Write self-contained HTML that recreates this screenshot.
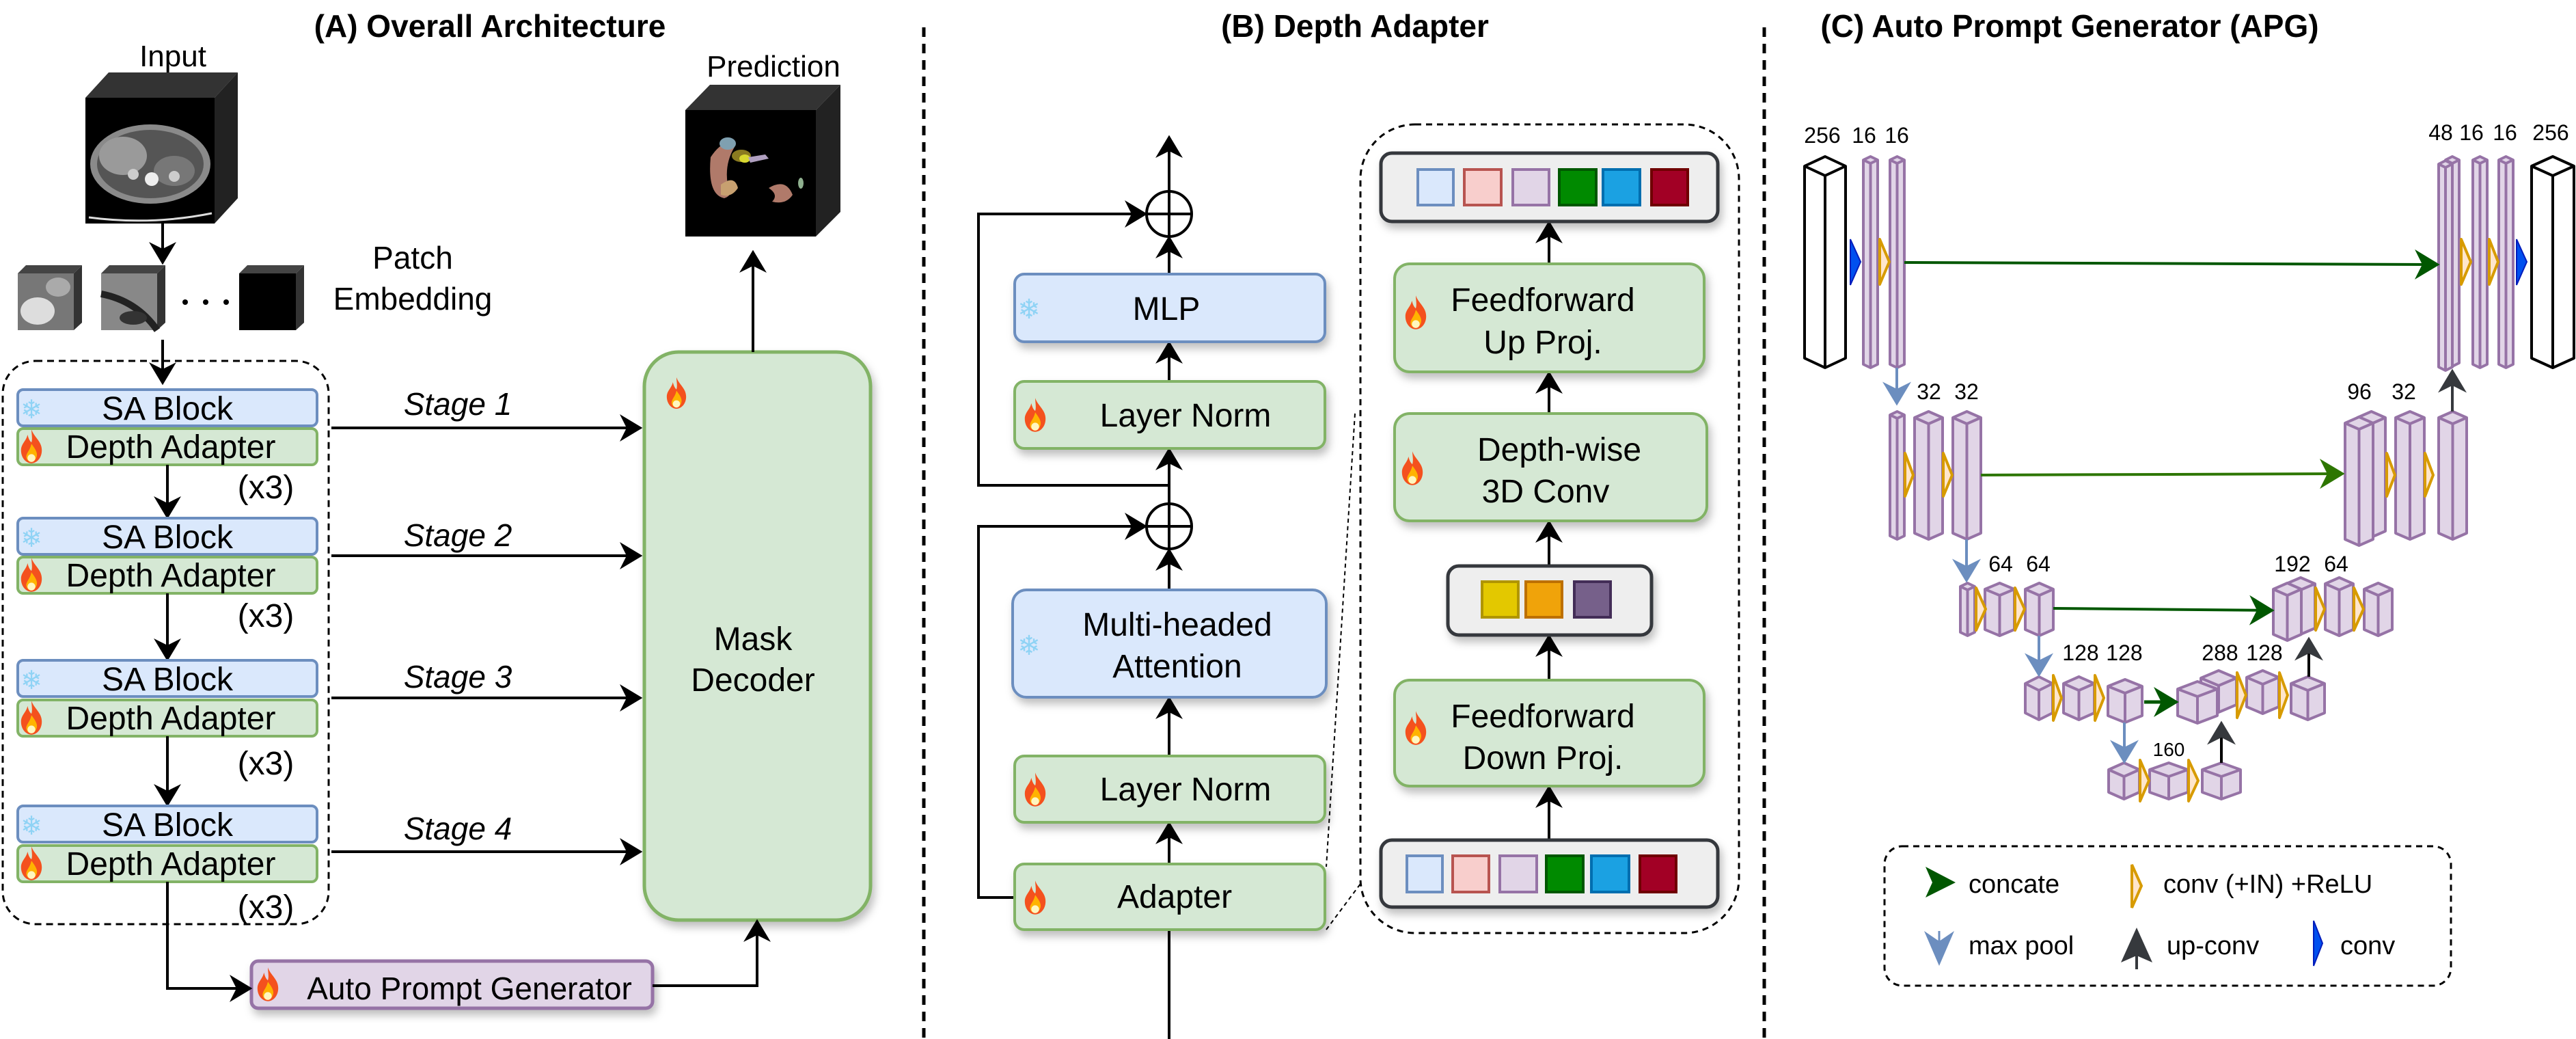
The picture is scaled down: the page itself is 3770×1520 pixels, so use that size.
<!DOCTYPE html>
<html><head><meta charset="utf-8"><style>
html,body{margin:0;padding:0;background:#fff;}
svg{display:block;}
text{font-family:"Liberation Sans",Arial,sans-serif;}
</style></head><body>
<svg xmlns="http://www.w3.org/2000/svg" width="3770" height="1520" viewBox="0 0 3770 1520">
<defs>
<marker id="ah" viewBox="0 0 10 12" refX="9" refY="6" markerWidth="34" markerHeight="40" markerUnits="userSpaceOnUse" orient="auto"><path d="M0,0 L10,6 L0,12 L3,6 Z" fill="#000"/></marker>
<marker id="ahg" viewBox="0 0 10 12" refX="9" refY="6" markerWidth="44" markerHeight="44" markerUnits="userSpaceOnUse" orient="auto"><path d="M0,0 L10,6 L0,12 L3,6 Z" fill="#005700"/></marker>
<marker id="ahg2" viewBox="0 0 10 12" refX="9" refY="6" markerWidth="44" markerHeight="44" markerUnits="userSpaceOnUse" orient="auto"><path d="M0,0 L10,6 L0,12 L3,6 Z" fill="#2d7600"/></marker>
<marker id="ahb" viewBox="0 0 10 12" refX="9" refY="6" markerWidth="42" markerHeight="42" markerUnits="userSpaceOnUse" orient="auto"><path d="M0,0 L10,6 L0,12 L3,6 Z" fill="#6c8ebf"/></marker>
<marker id="ahd" viewBox="0 0 10 12" refX="9" refY="6" markerWidth="42" markerHeight="42" markerUnits="userSpaceOnUse" orient="auto"><path d="M0,0 L10,6 L0,12 L3,6 Z" fill="#36393d"/></marker>
<symbol id="fire" viewBox="0 0 20 26"><path d="M10,0 C12,6 18,9 18,16 C18,22 14,26 10,26 C6,26 2,22 2,16 C2,11 6,9 7,4 C8,8 9,9 10,10 C11,7 10,3 10,0 Z" fill="#f4511e"/><path d="M10,11 C13,15 15,18 14,21 C13,24 11,25 10,25 C8,25 6,23 6,21 C6,18 9,16 10,11Z" fill="#ffb300"/><ellipse cx="10" cy="22" rx="3" ry="3" fill="#fff6c0"/></symbol>
<filter id="sh" x="-10%" y="-10%" width="130%" height="140%"><feDropShadow dx="4" dy="8" stdDeviation="6" flood-color="#000" flood-opacity="0.25"/></filter>
</defs>

<!-- separators -->
<line x1="1352" y1="40" x2="1352" y2="1520" stroke="#000" stroke-width="5" stroke-dasharray="14 10"/>
<line x1="2582" y1="40" x2="2582" y2="1520" stroke="#000" stroke-width="5" stroke-dasharray="14 10"/>

<!-- ===== Panel A ===== -->
<text x="717" y="54" font-size="46" font-weight="bold" text-anchor="middle">(A) Overall Architecture</text>
<text x="253" y="97" font-size="44" text-anchor="middle">Input</text>
<!-- input cube -->
<polygon points="125,143 159,106 348,106 314,143" fill="#333"/>
<polygon points="314,143 348,106 348,290 314,327" fill="#222"/>
<rect x="125" y="143" width="189" height="184" fill="#000"/>
<ellipse cx="220" cy="240" rx="88" ry="58" fill="#8a8a8a"/>
<ellipse cx="220" cy="240" rx="78" ry="50" fill="#555"/>
<ellipse cx="180" cy="228" rx="35" ry="28" fill="#9a9a9a"/>
<ellipse cx="255" cy="250" rx="30" ry="22" fill="#777"/>
<circle cx="222" cy="262" r="10" fill="#eee"/>
<circle cx="195" cy="255" r="8" fill="#ccc"/>
<circle cx="255" cy="258" r="8" fill="#ccc"/>
<path d="M130,318 Q220,330 310,312" stroke="#ddd" stroke-width="3" fill="none"/>
<line x1="238" y1="327" x2="238" y2="384" stroke="#000" stroke-width="4" marker-end="url(#ah)"/>
<!-- patch cubes -->
<polygon points="26,400 38,388 120,388 108,400" fill="#444"/><polygon points="108,400 120,388 120,472 108,483" fill="#333"/><rect x="26" y="400" width="82" height="83" fill="#777"/><ellipse cx="55" cy="455" rx="25" ry="20" fill="#ddd"/><ellipse cx="85" cy="420" rx="18" ry="14" fill="#aaa"/>
<polygon points="148,400 160,388 242,388 230,400" fill="#444"/><polygon points="230,400 242,388 242,472 230,483" fill="#333"/><rect x="148" y="400" width="82" height="83" fill="#888"/><path d="M148,430 Q200,440 230,483" stroke="#222" stroke-width="10" fill="none"/><ellipse cx="195" cy="465" rx="20" ry="10" fill="#333"/>
<polygon points="350,400 362,388 445,388 433,400" fill="#444"/><polygon points="433,400 445,388 445,472 433,483" fill="#333"/><rect x="350" y="400" width="83" height="83" fill="#000"/>
<circle cx="271" cy="442" r="4" fill="#000"/><circle cx="301" cy="442" r="4" fill="#000"/><circle cx="331" cy="442" r="4" fill="#000"/>
<text x="604" y="393" font-size="46" text-anchor="middle">Patch</text>
<text x="604" y="453" font-size="46" text-anchor="middle">Embedding</text>
<line x1="238" y1="497" x2="238" y2="560" stroke="#000" stroke-width="4" marker-end="url(#ah)"/>
<rect x="4" y="528" width="477" height="824" rx="48" fill="none" stroke="#000" stroke-width="3" stroke-dasharray="10 7"/>

<g font-size="48" text-anchor="middle">
<rect x="26" y="570" width="438" height="53" rx="8" fill="#dae8fc" stroke="#6c8ebf" stroke-width="4"/>
<text x="245" y="614">SA Block</text><text x="46" y="612" font-size="38" fill="#8fd3f5" font-family="DejaVu Sans">❄</text>
<rect x="26" y="627" width="438" height="53" rx="8" fill="#d5e8d4" stroke="#82b366" stroke-width="4"/>
<text x="250" y="670">Depth Adapter</text><use href="#fire" x="27" y="628" width="38" height="50"/>
<text x="389" y="729">(x3)</text>
<line x1="245" y1="680" x2="245" y2="756" stroke="#000" stroke-width="4" marker-end="url(#ah)"/>

<rect x="26" y="758" width="438" height="53" rx="8" fill="#dae8fc" stroke="#6c8ebf" stroke-width="4"/>
<text x="245" y="802">SA Block</text><text x="46" y="800" font-size="38" fill="#8fd3f5" font-family="DejaVu Sans">❄</text>
<rect x="26" y="815" width="438" height="53" rx="8" fill="#d5e8d4" stroke="#82b366" stroke-width="4"/>
<text x="250" y="858">Depth Adapter</text><use href="#fire" x="27" y="816" width="38" height="50"/>
<text x="389" y="917">(x3)</text>
<line x1="245" y1="868" x2="245" y2="964" stroke="#000" stroke-width="4" marker-end="url(#ah)"/>

<rect x="26" y="966" width="438" height="53" rx="8" fill="#dae8fc" stroke="#6c8ebf" stroke-width="4"/>
<text x="245" y="1010">SA Block</text><text x="46" y="1008" font-size="38" fill="#8fd3f5" font-family="DejaVu Sans">❄</text>
<rect x="26" y="1024" width="438" height="53" rx="8" fill="#d5e8d4" stroke="#82b366" stroke-width="4"/>
<text x="250" y="1067">Depth Adapter</text><use href="#fire" x="27" y="1025" width="38" height="50"/>
<text x="389" y="1133">(x3)</text>
<line x1="245" y1="1077" x2="245" y2="1177" stroke="#000" stroke-width="4" marker-end="url(#ah)"/>

<rect x="26" y="1179" width="438" height="53" rx="8" fill="#dae8fc" stroke="#6c8ebf" stroke-width="4"/>
<text x="245" y="1223">SA Block</text><text x="46" y="1221" font-size="38" fill="#8fd3f5" font-family="DejaVu Sans">❄</text>
<rect x="26" y="1237" width="438" height="53" rx="8" fill="#d5e8d4" stroke="#82b366" stroke-width="4"/>
<text x="250" y="1280">Depth Adapter</text><use href="#fire" x="27" y="1238" width="38" height="50"/>
<text x="389" y="1343">(x3)</text>
</g>

<g stroke="#000" stroke-width="4">
<line x1="485" y1="626" x2="937" y2="626" marker-end="url(#ah)"/>
<line x1="485" y1="813" x2="937" y2="813" marker-end="url(#ah)"/>
<line x1="485" y1="1021" x2="937" y2="1021" marker-end="url(#ah)"/>
<line x1="485" y1="1246" x2="937" y2="1246" marker-end="url(#ah)"/>
</g>
<g font-size="46" font-style="italic" text-anchor="middle">
<text x="670" y="607">Stage 1</text><text x="670" y="799">Stage 2</text><text x="670" y="1006">Stage 3</text><text x="670" y="1228">Stage 4</text>
</g>
<rect x="943" y="515" width="331" height="831" rx="50" fill="#d5e8d4" stroke="#82b366" stroke-width="5" filter="url(#sh)"/>
<use href="#fire" x="972" y="552" width="36" height="46"/>
<text x="1102" y="951" font-size="48" text-anchor="middle">Mask</text>
<text x="1102" y="1011" font-size="48" text-anchor="middle">Decoder</text>
<line x1="1102" y1="515" x2="1102" y2="369" stroke="#000" stroke-width="4" marker-end="url(#ah)"/>
<text x="1132" y="112" font-size="44" text-anchor="middle">Prediction</text>
<polygon points="1003,161 1039,124 1230,124 1194,161" fill="#333"/>
<polygon points="1194,161 1230,124 1230,310 1194,346" fill="#222"/>
<rect x="1003" y="161" width="191" height="185" fill="#000"/>
<path d="M1040,230 Q1060,200 1075,215 Q1060,240 1065,270 Q1075,285 1060,290 Q1035,285 1040,230Z" fill="#b07a6a"/>
<ellipse cx="1065" cy="210" rx="12" ry="9" fill="#7fa0b0"/>
<ellipse cx="1085" cy="228" rx="14" ry="9" fill="#8a7a20"/>
<ellipse cx="1090" cy="232" rx="8" ry="6" fill="#d8d830"/>
<path d="M1095,230 L1120,226 L1125,232 L1098,238Z" fill="#b0a0c0"/>
<path d="M1055,270 Q1075,255 1080,275 Q1070,290 1055,285Z" fill="#c7a070"/>
<path d="M1125,275 Q1150,260 1160,285 Q1150,300 1130,295 Q1140,285 1125,275Z" fill="#b07a6a"/>
<ellipse cx="1172" cy="268" rx="4" ry="8" fill="#8fb08f"/>
<rect x="368" y="1406" width="587" height="69" rx="10" fill="#e1d5e7" stroke="#9673a6" stroke-width="5" filter="url(#sh)"/>
<use href="#fire" x="373" y="1415" width="38" height="50"/>
<text x="687" y="1462" font-size="46" text-anchor="middle">Auto Prompt Generator</text>
<polyline points="245,1290 245,1446 366,1446" fill="none" stroke="#000" stroke-width="4" marker-end="url(#ah)"/>
<polyline points="955,1442 1108,1442 1108,1348" fill="none" stroke="#000" stroke-width="4" marker-end="url(#ah)"/>

<!-- ===== Panel B ===== -->
<text x="1983" y="54" font-size="46" font-weight="bold" text-anchor="middle">(B) Depth Adapter</text>
<g stroke="#000" stroke-width="4" fill="none">
<line x1="1711" y1="1520" x2="1711" y2="1362"/>
<line x1="1711" y1="1264" x2="1711" y2="1205" marker-end="url(#ah)"/>
<line x1="1711" y1="1106" x2="1711" y2="1022" marker-end="url(#ah)"/>
<line x1="1711" y1="863" x2="1711" y2="805" marker-end="url(#ah)"/>
<line x1="1711" y1="737" x2="1711" y2="658" marker-end="url(#ah)"/>
<line x1="1711" y1="558" x2="1711" y2="502" marker-end="url(#ah)"/>
<line x1="1711" y1="401" x2="1711" y2="348" marker-end="url(#ah)"/>
<line x1="1711" y1="280" x2="1711" y2="201" marker-end="url(#ah)"/>
<circle cx="1711" cy="313" r="33"/><line x1="1678" y1="313" x2="1744" y2="313"/><line x1="1711" y1="280" x2="1711" y2="346"/>
<circle cx="1711" cy="770" r="33"/><line x1="1678" y1="770" x2="1744" y2="770"/><line x1="1711" y1="737" x2="1711" y2="803"/>
<polyline points="1485,1313 1432,1313 1432,770 1676,770" marker-end="url(#ah)"/>
<polyline points="1711,710 1432,710 1432,313 1676,313" marker-end="url(#ah)"/>
</g>
<g font-size="48" text-anchor="middle">
<rect x="1485" y="401" width="454" height="99" rx="14" fill="#dae8fc" stroke="#6c8ebf" stroke-width="4" filter="url(#sh)"/>
<text x="1707" y="468">MLP</text><text x="1506" y="466" font-size="40" fill="#8fd3f5" font-family="DejaVu Sans">❄</text>
<rect x="1485" y="558" width="454" height="98" rx="14" fill="#d5e8d4" stroke="#82b366" stroke-width="4" filter="url(#sh)"/>
<text x="1735" y="624">Layer Norm</text><use href="#fire" x="1496" y="582" width="38" height="50"/>
<rect x="1482" y="863" width="459" height="157" rx="20" fill="#dae8fc" stroke="#6c8ebf" stroke-width="4" filter="url(#sh)"/>
<text x="1723" y="930">Multi-headed</text><text x="1723" y="991">Attention</text><text x="1506" y="958" font-size="40" fill="#8fd3f5" font-family="DejaVu Sans">❄</text>
<rect x="1485" y="1106" width="454" height="97" rx="14" fill="#d5e8d4" stroke="#82b366" stroke-width="4" filter="url(#sh)"/>
<text x="1735" y="1171">Layer Norm</text><use href="#fire" x="1496" y="1130" width="38" height="50"/>
<rect x="1485" y="1264" width="454" height="96" rx="14" fill="#d5e8d4" stroke="#82b366" stroke-width="4" filter="url(#sh)"/>
<text x="1719" y="1328">Adapter</text><use href="#fire" x="1496" y="1288" width="38" height="50"/>
</g>
<g stroke="#000" stroke-width="2" stroke-dasharray="6 5" fill="none">
<line x1="1983" y1="605" x2="1941" y2="1268"/>
<line x1="1941" y1="1360" x2="1991" y2="1293"/>
</g>
<rect x="1991" y="182" width="554" height="1183" rx="80" fill="none" stroke="#000" stroke-width="3" stroke-dasharray="9 7"/>
<g stroke="#000" stroke-width="4">
<line x1="2267" y1="1229" x2="2267" y2="1152" marker-end="url(#ah)"/>
<line x1="2267" y1="995" x2="2267" y2="931" marker-end="url(#ah)"/>
<line x1="2267" y1="828" x2="2267" y2="764" marker-end="url(#ah)"/>
<line x1="2267" y1="605" x2="2267" y2="546" marker-end="url(#ah)"/>
<line x1="2267" y1="386" x2="2267" y2="326" marker-end="url(#ah)"/>
</g>
<rect x="2021" y="224" width="493" height="100" rx="16" fill="#eeeeee" stroke="#36393d" stroke-width="5" filter="url(#sh)"/>
<g stroke-width="4">
<rect x="2075" y="248" width="52" height="52" fill="#dae8fc" stroke="#6c8ebf"/>
<rect x="2143" y="248" width="54" height="52" fill="#f8cecc" stroke="#b85450"/>
<rect x="2214" y="248" width="53" height="52" fill="#e1d5e7" stroke="#9673a6"/>
<rect x="2282" y="248" width="54" height="52" fill="#008a00" stroke="#005700"/>
<rect x="2346" y="248" width="54" height="52" fill="#1ba1e2" stroke="#006eaf"/>
<rect x="2417" y="248" width="53" height="52" fill="#a20025" stroke="#6f0000"/>
</g>
<g font-size="48" text-anchor="middle">
<rect x="2041" y="386" width="453" height="158" rx="22" fill="#d5e8d4" stroke="#82b366" stroke-width="4" filter="url(#sh)"/>
<text x="2258" y="455">Feedforward</text><text x="2258" y="517">Up Proj.</text><use href="#fire" x="2053" y="432" width="38" height="50"/>
<rect x="2041" y="605" width="457" height="157" rx="22" fill="#d5e8d4" stroke="#82b366" stroke-width="4" filter="url(#sh)"/>
<text x="2282" y="674">Depth-wise</text><text x="2262" y="735">3D Conv</text><use href="#fire" x="2048" y="660" width="38" height="50"/>
<rect x="2041" y="995" width="453" height="155" rx="22" fill="#d5e8d4" stroke="#82b366" stroke-width="4" filter="url(#sh)"/>
<text x="2258" y="1064">Feedforward</text><text x="2258" y="1125">Down Proj.</text><use href="#fire" x="2053" y="1040" width="38" height="50"/>
</g>
<rect x="2119" y="828" width="298" height="101" rx="16" fill="#eeeeee" stroke="#36393d" stroke-width="5" filter="url(#sh)"/>
<g stroke-width="4">
<rect x="2169" y="851" width="53" height="52" fill="#e3c800" stroke="#b09500"/>
<rect x="2233" y="851" width="53" height="52" fill="#f0a30a" stroke="#bd7000"/>
<rect x="2304" y="851" width="53" height="52" fill="#76608a" stroke="#432d57"/>
</g>
<rect x="2021" y="1229" width="493" height="98" rx="16" fill="#eeeeee" stroke="#36393d" stroke-width="5" filter="url(#sh)"/>
<g stroke-width="4">
<rect x="2059" y="1252" width="52" height="53" fill="#dae8fc" stroke="#6c8ebf"/>
<rect x="2126" y="1252" width="53" height="53" fill="#f8cecc" stroke="#b85450"/>
<rect x="2195" y="1252" width="54" height="53" fill="#e1d5e7" stroke="#9673a6"/>
<rect x="2263" y="1252" width="54" height="53" fill="#008a00" stroke="#005700"/>
<rect x="2329" y="1252" width="55" height="53" fill="#1ba1e2" stroke="#006eaf"/>
<rect x="2400" y="1252" width="53" height="53" fill="#a20025" stroke="#6f0000"/>
</g>

<!-- ===== Panel C ===== -->
<text x="3029" y="54" font-size="46" font-weight="bold" text-anchor="middle">(C) Auto Prompt Generator (APG)</text>
<g font-size="32" text-anchor="middle">
<text x="2667" y="209">256</text><text x="2728" y="209">16</text><text x="2776" y="209">16</text>
<text x="3572" y="205">48</text><text x="3617" y="205">16</text><text x="3666" y="205">16</text><text x="3733" y="205">256</text>
<text x="2823" y="584">32</text><text x="2878" y="584">32</text>
<text x="3453" y="584">96</text><text x="3518" y="584">32</text>
<text x="2928" y="836">64</text><text x="2983" y="836">64</text>
<text x="3355" y="836">192</text><text x="3419" y="836">64</text>
<text x="3045" y="966">128</text><text x="3109" y="966">128</text>
<text x="3249" y="966">288</text><text x="3314" y="966">128</text>
<text x="3174" y="1106" font-size="28">160</text>
</g>
<!-- white columns -->
<g fill="#fff" stroke="#000" stroke-width="4" stroke-linejoin="round">
<path d="M2641 243 L2671 229 L2701 243 V524 L2671 538 L2641 524Z"/><path d="M2641 243 L2671 257 L2701 243 M2671 257V538" fill="none"/>
<path d="M3705 243 L3736 229 L3767 243 V524 L3736 538 L3705 524Z"/><path d="M3705 243 L3736 257 L3767 243 M3736 257V538" fill="none"/>
</g>
<g fill="#e1d5e7" stroke="#9673a6" stroke-width="4" stroke-linejoin="round">
<!-- L1 -->
<path d="M2727 234 L2737.5 229 L2748 234 V533 L2737.5 538 L2727 533Z"/><path d="M2727 234 L2737.5 239 L2748 234 M2737.5 239V538" fill="none"/>
<path d="M2766 234 L2776.5 229 L2787 234 V533 L2776.5 538 L2766 533Z"/><path d="M2766 234 L2776.5 239 L2787 234 M2776.5 239V538" fill="none"/>
<path d="M3579 234 L3589 229 L3599 234 V531 L3589 536 L3579 531Z"/><path d="M3579 234 L3589 239 L3599 234 M3589 239V536" fill="none"/>
<path d="M3569 240 L3579 235 L3589 240 V537 L3579 542 L3569 537Z"/><path d="M3569 240 L3579 245 L3589 240 M3579 245V542" fill="none"/>
<path d="M3619 234 L3629.5 229 L3640 234 V533 L3629.5 538 L3619 533Z"/><path d="M3619 234 L3629.5 239 L3640 234 M3629.5 239V538" fill="none"/>
<path d="M3657 234 L3667.5 229 L3678 234 V533 L3667.5 538 L3657 533Z"/><path d="M3657 234 L3667.5 239 L3678 234 M3667.5 239V538" fill="none"/>
<!-- L2 -->
<path d="M2766 607 L2776.5 602 L2787 607 V784 L2776.5 789 L2766 784Z"/><path d="M2766 607 L2776.5 612 L2787 607 M2776.5 612V789" fill="none"/>
<path d="M2802 611 L2822.5 602 L2843 611 V780 L2822.5 789 L2802 780Z"/><path d="M2802 611 L2822.5 620 L2843 611 M2822.5 620V789" fill="none"/>
<path d="M2858 611 L2878.5 602 L2899 611 V780 L2878.5 789 L2858 780Z"/><path d="M2858 611 L2878.5 620 L2899 611 M2878.5 620V789" fill="none"/>
<path d="M3450 611 L3470.5 602 L3491 611 V777 L3470.5 786 L3450 777Z"/><path d="M3450 611 L3470.5 620 L3491 611 M3470.5 620V786" fill="none"/>
<path d="M3432 619 L3452.5 610 L3473 619 V789 L3452.5 798 L3432 789Z"/><path d="M3432 619 L3452.5 628 L3473 619 M3452.5 628V798" fill="none"/>
<path d="M3506 611 L3527 602 L3548 611 V780 L3527 789 L3506 780Z"/><path d="M3506 611 L3527 620 L3548 611 M3527 620V789" fill="none"/>
<path d="M3569 611 L3589.5 602 L3610 611 V780 L3589.5 789 L3569 780Z"/><path d="M3569 611 L3589.5 620 L3610 611 M3589.5 620V789" fill="none"/>
<!-- L3 -->
<path d="M2869 858 L2879.5 853 L2890 858 V925 L2879.5 930 L2869 925Z"/><path d="M2869 858 L2879.5 863 L2890 858 M2879.5 863V930" fill="none"/>
<path d="M2905 862 L2926.5 853 L2948 862 V921 L2926.5 930 L2905 921Z"/><path d="M2905 862 L2926.5 871 L2948 862 M2926.5 871V930" fill="none"/>
<path d="M2964 862 L2984.5 853 L3005 862 V921 L2984.5 930 L2964 921Z"/><path d="M2964 862 L2984.5 871 L3005 862 M2984.5 871V930" fill="none"/>
<path d="M3346 854 L3367 845 L3388 854 V919 L3367 928 L3346 919Z"/><path d="M3346 854 L3367 863 L3388 854 M3367 863V928" fill="none"/>
<path d="M3327 862 L3347.5 853 L3368 862 V928 L3347.5 937 L3327 928Z"/><path d="M3327 862 L3347.5 871 L3368 862 M3347.5 871V937" fill="none"/>
<path d="M3403 854 L3423.5 845 L3444 854 V921 L3423.5 930 L3403 921Z"/><path d="M3403 854 L3423.5 863 L3444 854 M3423.5 863V930" fill="none"/>
<path d="M3460 862 L3480.5 853 L3501 862 V921 L3480.5 930 L3460 921Z"/><path d="M3460 862 L3480.5 871 L3501 862 M3480.5 871V930" fill="none"/>
<!-- L4 -->
<path d="M2964 1000 L2984 990 L3004 1000 V1043 L2984 1053 L2964 1043Z"/><path d="M2964 1000 L2984 1010 L3004 1000 M2984 1010V1053" fill="none"/>
<path d="M3020 1000 L3042.5 990 L3065 1000 V1043 L3042.5 1053 L3020 1043Z"/><path d="M3020 1000 L3042.5 1010 L3065 1000 M3042.5 1010V1053" fill="none"/>
<path d="M3085 1004 L3110 994 L3135 1004 V1047 L3110 1057 L3085 1047Z"/><path d="M3085 1004 L3110 1014 L3135 1004 M3110 1014V1057" fill="none"/>
<path d="M3221 992 L3247 981 L3273 992 V1031 L3247 1042 L3221 1031Z"/><path d="M3221 992 L3247 1003 L3273 992 M3247 1003V1042" fill="none"/>
<path d="M3187 1008 L3216 997 L3245 1008 V1047 L3216 1058 L3187 1047Z"/><path d="M3187 1008 L3216 1019 L3245 1008 M3216 1019V1058" fill="none"/>
<path d="M3288 991 L3311.5 981 L3335 991 V1034 L3311.5 1044 L3288 1034Z"/><path d="M3288 991 L3311.5 1001 L3335 991 M3311.5 1001V1044" fill="none"/>
<path d="M3353 1000 L3377.5 990 L3402 1000 V1043 L3377.5 1053 L3353 1043Z"/><path d="M3353 1000 L3377.5 1010 L3402 1000 M3377.5 1010V1053" fill="none"/>
<!-- L5 -->
<path d="M3086 1126 L3108.5 1116 L3131 1126 V1159 L3108.5 1169 L3086 1159Z"/><path d="M3086 1126 L3108.5 1136 L3131 1126 M3108.5 1136V1169" fill="none"/>
<path d="M3146 1126 L3174 1116 L3202 1126 V1159 L3174 1169 L3146 1159Z"/><path d="M3146 1126 L3174 1136 L3202 1126 M3174 1136V1169" fill="none"/>
<path d="M3223 1126 L3251 1116 L3279 1126 V1159 L3251 1169 L3223 1159Z"/><path d="M3223 1126 L3251 1136 L3279 1126 M3251 1136V1169" fill="none"/>
</g>
<!-- orange conv triangles -->
<g fill="#ffe6cc" stroke="#d79b00" stroke-width="4" stroke-linejoin="round">
<polygon points="2751,350 2765,383 2751,416"/><polygon points="3602,350 3616,383 3602,416"/><polygon points="3643,350 3656,383 3643,416"/>
<polygon points="2788,663 2800,695 2788,726"/><polygon points="2844,663 2857,695 2844,726"/><polygon points="3493,663 3505,695 3493,726"/><polygon points="3549,663 3561,695 3549,726"/>
<polygon points="2892,860 2906,891 2892,922"/><polygon points="2949,860 2963,891 2949,922"/><polygon points="3389,860 3402,891 3389,922"/><polygon points="3445,860 3459,891 3445,922"/>
<polygon points="3005,988 3017,1021 3005,1054"/><polygon points="3066,988 3079,1021 3066,1054"/><polygon points="3274,984 3287,1017 3274,1050"/><polygon points="3336,984 3348,1017 3336,1050"/>
<polygon points="3132,1112 3145,1142 3132,1172"/><polygon points="3203,1112 3217,1142 3203,1172"/>
</g>
<g fill="#0050ef" stroke="#001dbc" stroke-width="2">
<polygon points="2708,350 2723,383 2708,417"/><polygon points="3683,350 3698,383 3683,417"/>
</g>
<!-- green concat arrows -->
<line x1="2787" y1="384" x2="3567" y2="387" stroke="#005700" stroke-width="4" marker-end="url(#ahg)"/>
<line x1="2899" y1="695" x2="3428" y2="693" stroke="#2d7600" stroke-width="4" marker-end="url(#ahg2)"/>
<line x1="3005" y1="890" x2="3325" y2="893" stroke="#005700" stroke-width="4" marker-end="url(#ahg)"/>
<line x1="3138" y1="1027" x2="3185" y2="1027" stroke="#005700" stroke-width="5" marker-end="url(#ahg)"/>
<!-- maxpool -->
<g stroke="#6c8ebf" stroke-width="4">
<line x1="2776" y1="538" x2="2776" y2="590" marker-end="url(#ahb)"/>
<line x1="2878" y1="789" x2="2878" y2="849" marker-end="url(#ahb)"/>
<line x1="2984" y1="930" x2="2984" y2="987" marker-end="url(#ahb)"/>
<line x1="3109" y1="1057" x2="3109" y2="1114" marker-end="url(#ahb)"/>
</g>
<!-- up-conv -->
<line x1="3589" y1="602" x2="3589" y2="543" stroke="#36393d" stroke-width="4" marker-end="url(#ahd)"/>
<line x1="3379" y1="990" x2="3379" y2="935" stroke="#000" stroke-width="4" marker-end="url(#ahd)"/>
<line x1="3251" y1="1116" x2="3251" y2="1058" stroke="#000" stroke-width="4" marker-end="url(#ahd)"/>
<!-- legend -->
<rect x="2758" y="1238" width="829" height="204" rx="26" fill="none" stroke="#000" stroke-width="3" stroke-dasharray="9 7"/>
<path d="M2818,1268 L2862,1291 L2818,1313 L2828,1291 Z" fill="#005700"/>
<polygon points="3120,1265 3134,1296 3120,1328" fill="#ffe6cc" stroke="#d79b00" stroke-width="4"/>
<path d="M2816,1362 L2838,1377 L2860,1362 L2838,1413 Z" fill="#6c8ebf"/><line x1="2838" y1="1362" x2="2838" y2="1380" stroke="#6c8ebf" stroke-width="3"/>
<path d="M3127,1357 L3150,1408 L3127,1398 L3104,1408 Z" fill="#36393d"/><line x1="3127" y1="1398" x2="3127" y2="1418" stroke="#36393d" stroke-width="4"/>
<polygon points="3386,1347 3399,1380 3386,1413" fill="#0050ef" stroke="#001dbc" stroke-width="2"/>
<g font-size="38">
<text x="2881" y="1306">concate</text><text x="3166" y="1306">conv (+IN) +ReLU</text>
<text x="2881" y="1396">max pool</text><text x="3171" y="1396">up-conv</text><text x="3425" y="1396">conv</text>
</g>
</svg>
</body></html>
